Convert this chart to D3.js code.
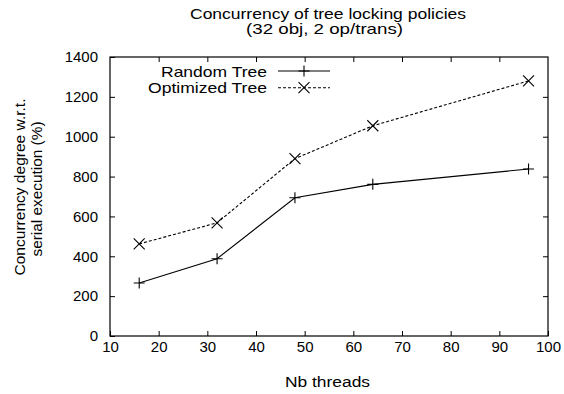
<!DOCTYPE html>
<html>
<head>
<meta charset="utf-8">
<script src="https://cdn.jsdelivr.net/npm/d3@7"></script>
<style>
  body { margin: 0; background: #fff; }
  text { font-family: "Liberation Sans", Arial, sans-serif; fill: #000; }
</style>
</head>
<body>
<svg width="564" height="394"></svg>
<script>
// data
const threads = [16, 32, 48, 64, 96];
const randomTree = [266, 388, 694, 761, 838];
const optimizedTree = [462, 568, 890, 1055, 1280];
const xTicks = [10, 20, 30, 40, 50, 60, 70, 80, 90, 100];
const yTicks = [0, 200, 400, 600, 800, 1000, 1200, 1400];

const svg = d3.select('svg');

// plot box
const plotL = 110, plotR = 548, plotT = 57, plotB = 336;

const xS = d3.scaleLinear().domain([10, 100]).range([plotL, plotR]);
const yS = d3.scaleLinear().domain([0, 1400]).range([plotB, plotT]);
const fmt = d3.format('d');

// ticks point inwards on every side (gnuplot mirror)
svg.append('g')
    .attr('transform', `translate(0, ${plotB})`)
    .call(d3.axisBottom(xS).tickValues(xTicks).tickSize(-5).tickPadding(5).tickFormat(fmt))
    .call(g => g.select('.domain').remove());
svg.append('g')
    .attr('transform', `translate(0, ${plotT})`)
    .call(d3.axisTop(xS).tickValues(xTicks.slice(1, -1)).tickSize(-5).tickFormat(''))
    .call(g => g.select('.domain').remove());
svg.append('g')
    .attr('transform', `translate(${plotL}, 0)`)
    .call(d3.axisLeft(yS).tickValues(yTicks).tickSize(-5).tickPadding(12).tickFormat(fmt))
    .call(g => g.select('.domain').remove());
svg.append('g')
    .attr('transform', `translate(${plotR}, 0)`)
    .call(d3.axisRight(yS).tickValues(yTicks.slice(1, -1)).tickSize(-5).tickFormat(''))
    .call(g => g.select('.domain').remove());

svg.selectAll('.tick text').attr('font-size', 15).attr('font-family', '"Liberation Sans", Arial, sans-serif');
svg.selectAll('.tick line').attr('stroke', '#000');

svg.append('rect')
    .attr('x', plotL).attr('y', plotT)
    .attr('width', plotR - plotL).attr('height', plotB - plotT)
    .attr('fill', 'none').attr('stroke', '#000').attr('stroke-width', 1.2);

// the reference text is set a bit wider than Liberation, so fit lengths
function label(x, y, str, size, len, anchor) {
  return svg.append('text').attr('x', x).attr('y', y)
    .attr('text-anchor', anchor || 'middle').attr('font-size', size)
    .attr('textLength', len).attr('lengthAdjust', 'spacingAndGlyphs')
    .text(str);
}

// titles
label(328, 18.5, 'Concurrency of tree locking policies', 15, 276);
label(324.5, 34, '(32 obj, 2 op/trans)', 15, 157);
label(327.5, 386.5, 'Nb threads', 15.5, 85);

const yl = svg.append('text').attr('transform', 'translate(25, 187) rotate(-90)')
    .attr('text-anchor', 'middle').attr('font-size', 15);
yl.append('tspan').attr('x', 0).attr('y', 0)
    .attr('textLength', 177).attr('lengthAdjust', 'spacingAndGlyphs')
    .text('Concurrency degree w.r.t.');
yl.append('tspan').attr('x', -2).attr('y', 16.5)
    .attr('textLength', 135).attr('lengthAdjust', 'spacingAndGlyphs')
    .text('serial execution (%)');

// series
const line = d3.line().x(d => xS(d[0])).y(d => yS(d[1]));
const series = [
  { name: 'Random Tree', vals: randomTree, dash: null, mark: 'plus', len: 106 },
  { name: 'Optimized Tree', vals: optimizedTree, dash: '3,2', mark: 'cross', len: 119 }
];

function marker(g, x, y, type) {
  const s = 5.5;
  if (type === 'plus') {
    g.append('path').attr('d', `M${x - s},${y}H${x + s}M${x},${y - s}V${y + s}`)
      .attr('stroke', '#000').attr('stroke-width', 1.1);
  } else {
    g.append('path').attr('d', `M${x - s},${y - s}L${x + s},${y + s}M${x - s},${y + s}L${x + s},${y - s}`)
      .attr('stroke', '#000').attr('stroke-width', 1.1);
  }
}

series.forEach((s, i) => {
  const pts = threads.map((t, j) => [t, s.vals[j]]);
  svg.append('path').datum(pts).attr('d', line)
    .attr('fill', 'none').attr('stroke', '#000').attr('stroke-width', 1.1)
    .attr('stroke-dasharray', s.dash);
  const g = svg.append('g');
  pts.forEach(p => marker(g, xS(p[0]), yS(p[1]), s.mark));

  // legend
  const ly = 71 + i * 16.7;
  label(267, ly + 5.7, s.name, 15, s.len, 'end');
  svg.append('line').attr('x1', 278).attr('x2', 330).attr('y1', ly).attr('y2', ly)
    .attr('stroke', '#000').attr('stroke-width', 1.1).attr('stroke-dasharray', s.dash);
  marker(svg, 304, ly, s.mark);
});
</script>
</body>
</html>
